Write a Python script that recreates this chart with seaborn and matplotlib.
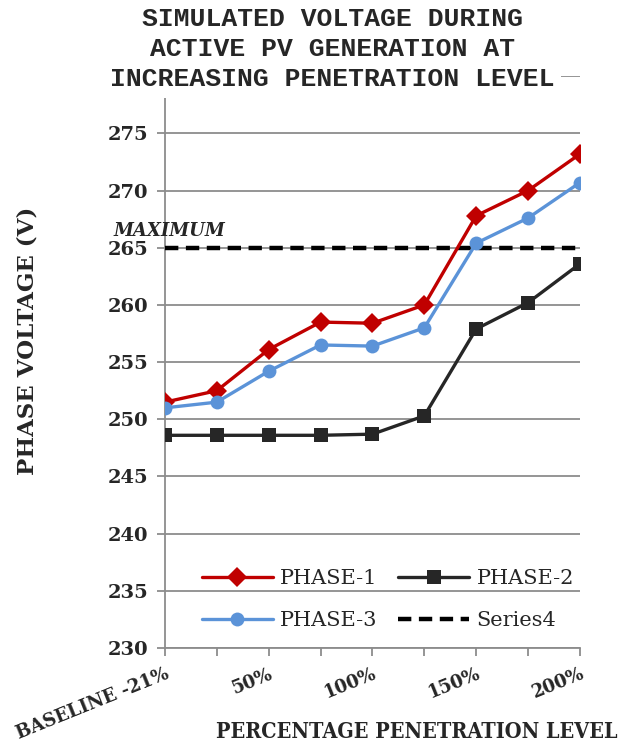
import numpy as np
import pandas as pd
import matplotlib
matplotlib.use("Agg")
import matplotlib.pyplot as plt
import seaborn as sns

# Categorias do eixo x (só metade recebe rótulo)
categorias = ["BASELINE -21%", "", "50%", "", "100%", "", "150%", "", "200%"]

# Tensões (V)
fase_1 = [251.5, 252.5, 256.1, 258.5, 258.4, 260.0, 267.8, 270.0, 273.2]
fase_2 = [248.6, 248.6, 248.6, 248.6, 248.7, 250.3, 257.9, 260.2, 263.6]
fase_3 = [251.0, 251.5, 254.2, 256.5, 256.4, 258.0, 265.4, 267.6, 270.7]
maximo = [265.0] * len(categorias)

posicoes = np.arange(len(categorias))
df = pd.DataFrame({
    "x": np.tile(posicoes, 4),
    "tensao": fase_1 + fase_2 + fase_3 + maximo,
    "serie": (["PHASE-1"] * 9 + ["PHASE-2"] * 9 + ["PHASE-3"] * 9 + ["Series4"] * 9),
})

sns.set_style("white")
plt.rcParams["font.family"] = ["DejaVu Serif"]

fig = plt.figure(figsize=(6.27, 7.47), dpi=100)
ax = fig.add_axes([0.263, 0.1325, 0.662, 0.7655])

cinza = "#8c8c8c"

# Linha do máximo primeiro (fica por trás)
sns.lineplot(data=df[df.serie == "Series4"], x="x", y="tensao", ax=ax,
             color="black", linewidth=3.2, dashes=(3.0, 1.7), label="Series4", zorder=3)
sns.lineplot(data=df[df.serie == "PHASE-2"], x="x", y="tensao", ax=ax,
             color="#262626", linewidth=2.4, marker="s", markersize=10,
             markeredgewidth=0, label="PHASE-2", zorder=4)
sns.lineplot(data=df[df.serie == "PHASE-1"], x="x", y="tensao", ax=ax,
             color="#C00000", linewidth=2.4, marker="D", markersize=10,
             markeredgewidth=0, label="PHASE-1", zorder=5)
sns.lineplot(data=df[df.serie == "PHASE-3"], x="x", y="tensao", ax=ax,
             color="#5B93D8", linewidth=2.4, marker="o", markersize=10,
             markeredgewidth=0, label="PHASE-3", zorder=6)

ax.set_xlim(0, len(categorias) - 1)
ax.set_ylim(230, 280)
ticks_y = np.arange(230, 281, 5)
ax.set_yticks(ticks_y)
# o rótulo 280 fica escondido atrás do título
ax.set_yticklabels([str(t) if t < 280 else "" for t in ticks_y],
                   fontsize=14, fontweight="bold")
ax.set_xticks(posicoes)
ax.set_xticklabels(categorias, rotation=22, ha="right", rotation_mode="anchor",
                   fontsize=13, fontweight="bold")

ax.grid(axis="y", color=cinza, linewidth=1.3)
ax.grid(axis="x", visible=False)
for lado in ["top", "right"]:
    ax.spines[lado].set_visible(False)
for lado in ["left", "bottom"]:
    ax.spines[lado].set_color(cinza)
    ax.spines[lado].set_linewidth(1.3)
ax.tick_params(axis="both", direction="out", length=6, width=1.3, color=cinza,
               left=True, bottom=True, pad=6)

ax.set_xlabel("PERCENTAGE PENETRATION LEVEL", fontsize=15.5, fontweight="bold",
              fontstretch="condensed", va="top")
ax.xaxis.set_label_coords(0.607, -0.127)
ax.set_ylabel("PHASE VOLTAGE (V)", fontsize=16.5, fontweight="bold")
ax.yaxis.set_label_coords(-0.305, 0.537)

ax.text(-1.0, 265.7, "MAXIMUM", fontsize=13, fontweight="bold", fontstyle="italic",
        ha="left", va="bottom", clip_on=False)

# Legenda em duas colunas
h, l = ax.get_legend_handles_labels()
ordem = {k: v for v, k in zip(h, l)}
ax.get_legend().remove()
fig.legend([ordem["PHASE-1"], ordem["PHASE-3"], ordem["PHASE-2"], ordem["Series4"]],
           ["PHASE-1", "PHASE-3", "PHASE-2", "Series4"],
           ncol=2, loc="upper left", bbox_to_anchor=(202 / 627, 1 - 569 / 747),
           frameon=False, borderpad=0, borderaxespad=0,
           fontsize=15, handlelength=3.4, handletextpad=0.35, columnspacing=1.0,
           labelspacing=1.1)

# Título com fundo branco por cima do topo do eixo
fig.text(0.53, 0.934, "SIMULATED VOLTAGE DURING\nACTIVE PV GENERATION AT\nINCREASING PENETRATION LEVEL",
         ha="center", va="center", fontsize=19, fontweight="bold",
         family="Liberation Mono", linespacing=1.32, zorder=10,
         bbox=dict(facecolor="white", edgecolor="none", pad=5))

fig.savefig("out.png", dpi=100)
